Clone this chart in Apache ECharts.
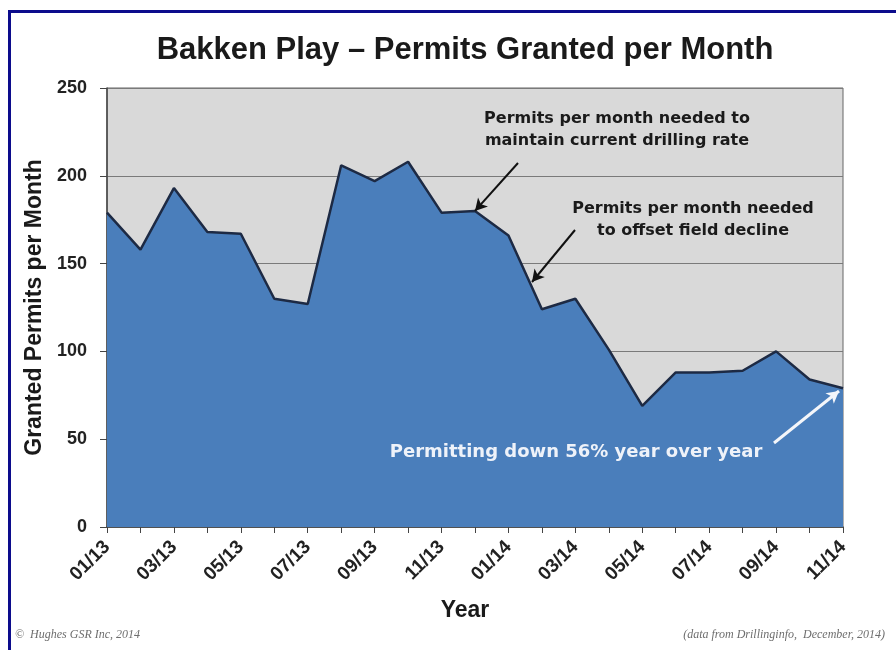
<!DOCTYPE html>
<html>
<head>
<meta charset="utf-8">
<title>Bakken Play - Permits Granted per Month</title>
<script src="https://cdn.jsdelivr.net/npm/echarts@6/dist/echarts.min.js"></script>
<style>
  html, body { margin: 0; padding: 0; background: #fff; }
  #chart { width: 896px; height: 650px; }
</style>
</head>
<body>
<div id="chart"></div>
<script>
// months on the x axis
const months = [
  '01/13', '02/13', '03/13', '04/13', '05/13', '06/13', '07/13', '08/13',
  '09/13', '10/13', '11/13', '12/13', '01/14', '02/14', '03/14', '04/14',
  '05/14', '06/14', '07/14', '08/14', '09/14', '10/14', '11/14'
]
// permits granted each month
const permits = [
  179, 158, 193, 168, 167, 130, 127, 206, 197, 208, 179, 180,
  166, 124, 130, 101, 69, 88, 88, 89, 100, 84, 79
]
const yTicks = [0, 50, 100, 150, 200, 250]

const chart = echarts.init(document.getElementById('chart'))

const boldSans = 'Liberation Sans, Arial, sans-serif'
const noteFont = 'DejaVu Sans, Verdana, sans-serif'

const option = {
  animation: false,
  title: {
    text: 'Bakken Play \u2013 Permits Granted per Month',
    left: 460,
    top: 30,
    textAlign: 'center',
    textStyle: {
      fontFamily: boldSans,
      fontWeight: 'bold',
      fontSize: 31,
      color: '#1a1a1a'
    }
  },
  grid: {
    left: 107,
    right: 53,
    top: 88,
    bottom: 123,
    show: true,
    backgroundColor: '#d9d9d9',
    borderColor: '#666',
    borderWidth: 1
  },
  xAxis: {
    type: 'category',
    data: months,
    boundaryGap: false,
    name: 'Year',
    nameLocation: 'middle',
    nameGap: 72,
    nameTextStyle: {
      fontFamily: boldSans,
      fontWeight: 'bold',
      fontSize: 23,
      color: '#1a1a1a',
      padding: [0, 20, 0, 0]
    },
    axisLine: { lineStyle: { color: '#444', width: 1.5 } },
    axisTick: {
      interval: 0,
      length: 6,
      lineStyle: { color: '#444' }
    },
    axisLabel: {
      interval: 1,
      rotate: 45,
      margin: 17,
      fontFamily: boldSans,
      fontWeight: 'bold',
      fontSize: 19,
      color: '#222'
    },
    splitLine: { show: false }
  },
  yAxis: {
    type: 'value',
    min: yTicks[0],
    max: yTicks[yTicks.length - 1],
    interval: 50,
    name: 'Granted Permits per Month',
    nameLocation: 'middle',
    nameGap: 60,
    nameTextStyle: {
      fontFamily: boldSans,
      fontWeight: 'bold',
      fontSize: 23,
      color: '#1a1a1a'
    },
    axisLine: { show: true, lineStyle: { color: '#444', width: 1.5 } },
    axisTick: { show: true, length: 7, lineStyle: { color: '#444' } },
    axisLabel: {
      margin: 20,
      fontFamily: boldSans,
      fontWeight: 'bold',
      fontSize: 18,
      color: '#222'
    },
    splitLine: { lineStyle: { color: '#7a7a7a', width: 1 } }
  },
  series: [
    {
      name: 'Permits',
      type: 'line',
      data: permits,
      symbol: 'none',
      lineStyle: { color: '#1d2a44', width: 2.5 },
      areaStyle: { color: '#4a7ebb', opacity: 1 },
      markLine: {
        silent: true,
        symbol: ['none', 'arrow'],
        symbolSize: [10, 12],
        label: { show: false },
        lineStyle: { type: 'solid' },
        data: [
          [
            { x: 518, y: 163, lineStyle: { color: '#111', width: 2 } },
            { coord: ['12/13', 180] }
          ],
          [
            { x: 575, y: 230, lineStyle: { color: '#111', width: 2 } },
            { x: 532, y: 282 }
          ],
          [
            { x: 774, y: 443, lineStyle: { color: '#f4f6fa', width: 3 } },
            { x: 839, y: 391 }
          ]
        ]
      }
    }
  ],
  graphic: [
    // navy frame around the slide
    {
      type: 'rect',
      silent: true,
      z: 100,
      shape: { x: 9.5, y: 11.5, width: 1000, height: 1000 },
      style: { fill: 'none', stroke: '#0c0c8c', lineWidth: 3 }
    },
    {
      type: 'text',
      z: 100,
      x: 617,
      y: 130,
      style: {
        text: 'Permits per month needed to\nmaintain current drilling rate',
        font: 'bold 16px ' + noteFont,
        fill: '#1a1a1a',
        align: 'center',
        verticalAlign: 'middle',
        lineHeight: 22
      }
    },
    {
      type: 'text',
      z: 100,
      x: 693,
      y: 220,
      style: {
        text: 'Permits per month needed\nto offset field decline',
        font: 'bold 16px ' + noteFont,
        fill: '#1a1a1a',
        align: 'center',
        verticalAlign: 'middle',
        lineHeight: 22
      }
    },
    {
      type: 'text',
      z: 100,
      x: 576,
      y: 452,
      style: {
        text: 'Permitting down 56% year over year',
        font: 'bold 18px ' + noteFont,
        fill: '#eef2f9',
        align: 'center',
        verticalAlign: 'middle'
      }
    },
    {
      type: 'text',
      x: 15,
      y: 635,
      style: {
        text: '\u00a9  Hughes GSR Inc, 2014',
        font: 'italic 12px Liberation Serif, serif',
        fill: '#6e6e6e',
        verticalAlign: 'middle'
      }
    },
    {
      type: 'text',
      x: 885,
      y: 635,
      style: {
        text: '(data from Drillinginfo,  December, 2014)',
        font: 'italic 12px Liberation Serif, serif',
        fill: '#6e6e6e',
        align: 'right',
        verticalAlign: 'middle'
      }
    }
  ]
}

chart.setOption(option)
</script>
</body>
</html>
